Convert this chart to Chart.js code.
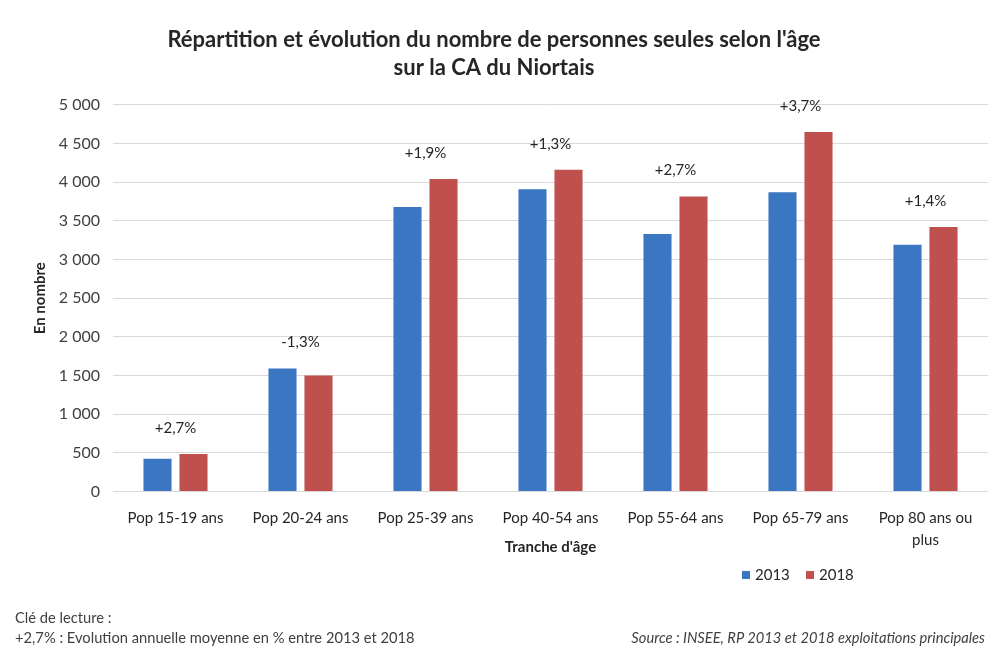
<!DOCTYPE html>
<html lang="fr">
<head>
<meta charset="utf-8">
<title>Personnes seules - CA du Niortais</title>
<script src="https://cdn.jsdelivr.net/npm/chart.js@4.4.0/dist/chart.umd.min.js"></script>
<style>
    body { margin: 0; background: #fff; }
    #wrap { position: relative; width: 994px; height: 651px; }
    .note { position: absolute; font-family: Lato, sans-serif; font-size: 14.7px; color: #404040; white-space: nowrap; }
</style>
</head>
<body>
<div id="wrap">
    <canvas id="chart" width="994" height="651"></canvas>
    <div class="note" style="left:15px; top:608px;">Clé de lecture :</div>
    <div class="note" style="left:15px; top:628px;">+2,7% : Evolution annuelle moyenne en % entre 2013 et 2018</div>
    <div class="note" style="right:9px; top:628px; font-style:italic;">Source : INSEE, RP 2013 et 2018 exploitations principales</div>
</div>
<script>
// donnees
const categories = ['Pop 15-19 ans', 'Pop 20-24 ans', 'Pop 25-39 ans', 'Pop 40-54 ans', 'Pop 55-64 ans', 'Pop 65-79 ans', ['Pop 80 ans ou', 'plus']];
const pop2013 = [423, 1590, 3680, 3910, 3330, 3870, 3190];
const pop2018 = [484, 1500, 4040, 4160, 3815, 4650, 3420];
const evolution = ['+2,7%', '-1,3%', '+1,9%', '+1,3%', '+2,7%', '+3,7%', '+1,4%'];
const yTicks = [0, 500, 1000, 1500, 2000, 2500, 3000, 3500, 4000, 4500, 5000];

const blue = '#3b76c3';
const red = '#c0504d';
const textColor = '#262626';

// etiquettes d'evolution au-dessus de chaque paire de barres
const evolutionLabels = {
    id: 'evolutionLabels',
    afterDatasetsDraw(chart) {
        const ctx = chart.ctx;
        const m0 = chart.getDatasetMeta(0).data;
        const m1 = chart.getDatasetMeta(1).data;
        ctx.save();
        ctx.font = '15px Lato';
        ctx.fillStyle = textColor;
        ctx.textAlign = 'center';
        ctx.textBaseline = 'middle';
        evolution.forEach(function (txt, i) {
            const x = (m0[i].x + m1[i].x) / 2;
            const top = Math.min(m0[i].y, m1[i].y);
            ctx.fillText(txt, x, top - 26);
        });
        ctx.restore();
    }
};

// legende en bas a droite
const bottomLegend = {
    id: 'bottomLegend',
    afterDraw(chart) {
        const ctx = chart.ctx;
        ctx.save();
        ctx.font = '15px Lato';
        ctx.textBaseline = 'middle';
        let x = 742;
        const y = 575;
        chart.data.datasets.forEach(function (ds) {
            ctx.fillStyle = ds.backgroundColor;
            ctx.fillRect(x, y - 4, 8, 8);
            ctx.fillStyle = textColor;
            ctx.fillText(ds.label, x + 13, y);
            x += 64;
        });
        ctx.restore();
    }
};

new Chart(document.getElementById('chart'), {
    type: 'bar',
    data: {
        labels: categories,
        datasets: [
            { label: '2013', data: pop2013, backgroundColor: blue },
            { label: '2018', data: pop2018, backgroundColor: red }
        ]
    },
    options: {
        responsive: false,
        animation: false,
        categoryPercentage: 0.576,
        barPercentage: 0.78,
        layout: { padding: { top: 0, right: 6, bottom: 95, left: 0 } },
        plugins: {
            legend: { display: false },
            tooltip: { enabled: false },
            title: {
                display: true,
                text: ['Répartition et évolution du nombre de personnes seules selon l\'âge', 'sur la CA du Niortais'],
                color: textColor,
                font: { family: 'Lato', size: 22, weight: 'bold', lineHeight: 1.27 },
                padding: { top: 26, bottom: 23 }
            }
        },
        scales: {
            x: {
                grid: { display: false, drawTicks: false },
                border: { display: false },
                ticks: {
                    color: textColor,
                    font: { family: 'Lato', size: 15, lineHeight: 1.45 },
                    padding: 16,
                    maxRotation: 0
                },
                title: {
                    display: true,
                    text: 'Tranche d\'âge',
                    color: textColor,
                    font: { family: 'Lato', size: 15, weight: 'bold', lineHeight: 1.2 },
                    padding: { top: -29, bottom: 0 }
                }
            },
            y: {
                min: 0,
                max: 5000,
                afterBuildTicks: function (scale) {
                    scale.ticks = yTicks.map(v => ({ value: v }));
                },
                afterFit: function (scale) {
                    scale.width = 113;
                },
                grid: { color: '#d9d9d9', drawTicks: false },
                border: { display: false },
                ticks: {
                    color: '#404040',
                    font: { family: 'Lato', size: 16 },
                    padding: 13,
                    callback: function (v) {
                        return String(v).replace(/\B(?=(\d{3})+(?!\d))/g, ' ');
                    }
                },
                title: {
                    display: true,
                    text: 'En nombre',
                    color: textColor,
                    font: { family: 'Lato', size: 15, weight: 'bold', lineHeight: 1.2 },
                    padding: { top: 31, bottom: 0 }
                }
            }
        }
    },
    plugins: [evolutionLabels, bottomLegend]
});
</script>
</body>
</html>
